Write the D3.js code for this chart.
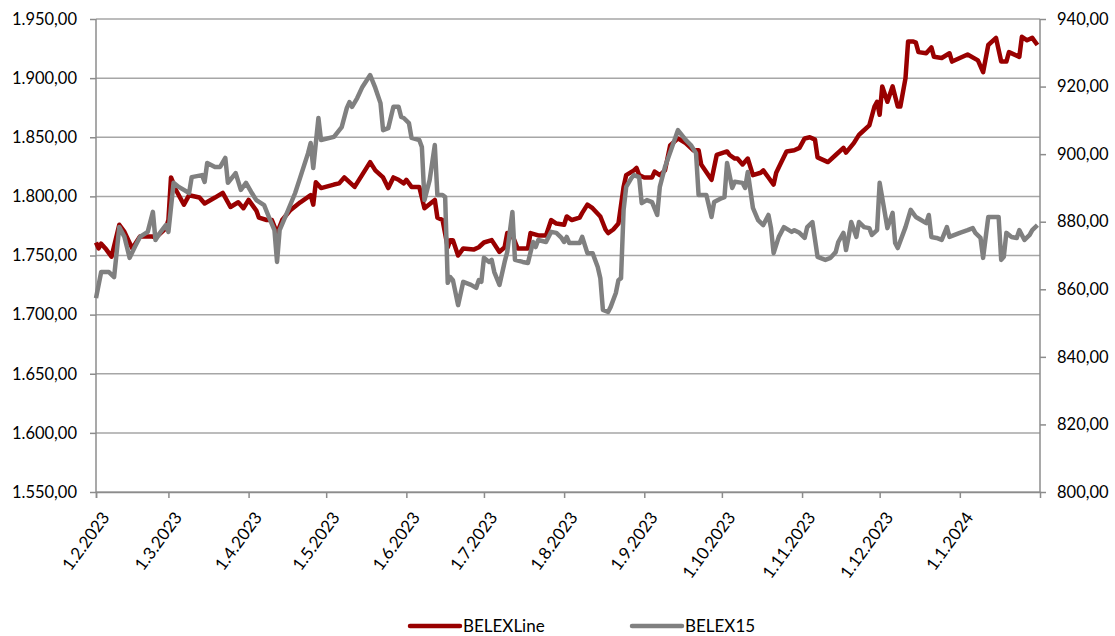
<!DOCTYPE html>
<html>
<head>
<meta charset="utf-8">
<script src="https://cdn.jsdelivr.net/npm/d3@7"></script>
<style>
  body { margin: 0; background: #fff; }
  #chart { width: 1115px; height: 636px; }
</style>
</head>
<body>
<div id="chart"></div>
<script>
// BELEXLine (left axis) vs BELEX15 (right axis)
const lineDates = [
  "2023-02-01","2023-02-02","2023-02-03","2023-02-05","2023-02-07","2023-02-10","2023-02-12","2023-02-15","2023-02-18","2023-02-23",
  "2023-02-24","2023-02-26","2023-02-28","2023-03-01","2023-03-02","2023-03-04","2023-03-07","2023-03-09","2023-03-13","2023-03-15",
  "2023-03-19","2023-03-22","2023-03-25","2023-03-28","2023-03-30","2023-04-01","2023-04-04","2023-04-05","2023-04-08","2023-04-10",
  "2023-04-12","2023-04-14","2023-04-17","2023-04-21","2023-04-25","2023-04-26","2023-04-27","2023-04-29","2023-05-04","2023-05-06",
  "2023-05-08","2023-05-10","2023-05-12","2023-05-18","2023-05-20","2023-05-23","2023-05-25","2023-05-27","2023-05-29","2023-05-31",
  "2023-06-01","2023-06-03","2023-06-06","2023-06-08","2023-06-12","2023-06-13","2023-06-15","2023-06-17","2023-06-18","2023-06-19",
  "2023-06-21","2023-06-23","2023-06-27","2023-06-29","2023-07-01","2023-07-04","2023-07-07","2023-07-09","2023-07-10","2023-07-12",
  "2023-07-14","2023-07-18","2023-07-19","2023-07-22","2023-07-25","2023-07-27","2023-07-29","2023-08-01","2023-08-02","2023-08-04",
  "2023-08-07","2023-08-08","2023-08-10","2023-08-12","2023-08-15","2023-08-17","2023-08-18","2023-08-20","2023-08-22","2023-08-24",
  "2023-08-25","2023-08-28","2023-08-29","2023-08-30","2023-09-01","2023-09-04","2023-09-05","2023-09-07","2023-09-09","2023-09-11",
  "2023-09-14","2023-09-17","2023-09-20","2023-09-22","2023-09-23","2023-09-27","2023-09-29","2023-10-03","2023-10-04","2023-10-06",
  "2023-10-07","2023-10-09","2023-10-11","2023-10-13","2023-10-16","2023-10-17","2023-10-19","2023-10-21","2023-10-22","2023-10-24",
  "2023-10-26","2023-10-29","2023-10-31","2023-11-02","2023-11-04","2023-11-06","2023-11-07","2023-11-11","2023-11-14","2023-11-17",
  "2023-11-18","2023-11-21","2023-11-23","2023-11-24","2023-11-27","2023-11-29","2023-11-30","2023-12-01","2023-12-02","2023-12-04",
  "2023-12-06","2023-12-08","2023-12-09","2023-12-11","2023-12-12","2023-12-14","2023-12-15","2023-12-16","2023-12-19","2023-12-21",
  "2023-12-22","2023-12-25","2023-12-28","2023-12-29","2024-01-01","2024-01-04","2024-01-08","2024-01-10","2024-01-12","2024-01-15",
  "2024-01-17","2024-01-19","2024-01-20","2024-01-24","2024-01-25","2024-01-27","2024-01-29","2024-01-31"
];
const lineValues = [
  1761,1756,1760,1755,1749,1776,1770,1756,1766,1766,
  1765,1769,1773,1780,1816,1805,1793,1801,1799,1794,
  1799,1803,1791,1795,1790,1797,1788,1782,1780,1780,
  1769,1780,1788,1795,1801,1793,1812,1807,1810,1811,
  1816,1812,1808,1829,1822,1816,1807,1816,1814,1811,
  1814,1808,1808,1790,1797,1782,1780,1757,1763,1763,
  1750,1756,1755,1757,1761,1763,1753,1757,1769,1767,
  1756,1756,1769,1767,1767,1780,1777,1776,1783,1780,
  1782,1786,1793,1790,1783,1772,1769,1772,1777,1808,
  1818,1822,1824,1818,1816,1816,1821,1818,1822,1843,
  1849,1845,1839,1839,1827,1814,1835,1838,1835,1832,
  1832,1827,1832,1818,1820,1822,1816,1810,1820,1829,
  1838,1839,1841,1849,1850,1848,1833,1829,1835,1841,
  1837,1845,1852,1854,1860,1876,1880,1869,1893,1880,
  1893,1876,1876,1900,1931,1931,1930,1922,1921,1926,
  1918,1917,1921,1914,1917,1920,1915,1905,1928,1934,
  1914,1914,1922,1918,1935,1932,1934,1928
];

const b15Dates = [
  "2023-02-01","2023-02-03","2023-02-06","2023-02-08","2023-02-10","2023-02-12","2023-02-14","2023-02-16","2023-02-18","2023-02-21",
  "2023-02-23","2023-02-24","2023-02-26","2023-02-28","2023-03-01","2023-03-03","2023-03-05","2023-03-09","2023-03-10","2023-03-14",
  "2023-03-15","2023-03-16","2023-03-19","2023-03-21","2023-03-23","2023-03-24","2023-03-27","2023-03-29","2023-03-31","2023-04-02",
  "2023-04-04","2023-04-07","2023-04-09","2023-04-11","2023-04-12","2023-04-13","2023-04-16","2023-04-19","2023-04-21","2023-04-24",
  "2023-04-25","2023-04-26","2023-04-28","2023-04-29","2023-05-04","2023-05-07","2023-05-09","2023-05-10","2023-05-11","2023-05-13",
  "2023-05-15","2023-05-18","2023-05-20","2023-05-22","2023-05-23","2023-05-25","2023-05-27","2023-05-29","2023-05-30","2023-05-31",
  "2023-06-02","2023-06-03","2023-06-06","2023-06-07","2023-06-08","2023-06-10","2023-06-12","2023-06-13","2023-06-15","2023-06-16",
  "2023-06-17","2023-06-18","2023-06-19","2023-06-21","2023-06-23","2023-06-26","2023-06-28","2023-06-29","2023-06-30","2023-07-01",
  "2023-07-03","2023-07-04","2023-07-05","2023-07-07","2023-07-09","2023-07-10","2023-07-12","2023-07-13","2023-07-16","2023-07-18",
  "2023-07-20","2023-07-21","2023-07-22","2023-07-25","2023-07-27","2023-07-29","2023-07-31","2023-08-01","2023-08-02","2023-08-03",
  "2023-08-07","2023-08-08","2023-08-10","2023-08-12","2023-08-14","2023-08-15","2023-08-16","2023-08-18","2023-08-19","2023-08-21",
  "2023-08-22","2023-08-23","2023-08-24","2023-08-25","2023-08-27","2023-08-28","2023-08-30","2023-08-31","2023-09-02","2023-09-04",
  "2023-09-06","2023-09-07","2023-09-09","2023-09-12","2023-09-14","2023-09-17","2023-09-19","2023-09-21","2023-09-22","2023-09-25",
  "2023-09-27","2023-09-28","2023-10-01","2023-10-02","2023-10-03","2023-10-05","2023-10-06","2023-10-09","2023-10-10","2023-10-11",
  "2023-10-13","2023-10-15","2023-10-17","2023-10-19","2023-10-20","2023-10-21","2023-10-23","2023-10-25","2023-10-28","2023-10-29",
  "2023-10-31","2023-11-02","2023-11-03","2023-11-05","2023-11-07","2023-11-10","2023-11-12","2023-11-14","2023-11-15","2023-11-17",
  "2023-11-18","2023-11-19","2023-11-20","2023-11-22","2023-11-23","2023-11-25","2023-11-27","2023-11-28","2023-11-30","2023-12-01",
  "2023-12-03","2023-12-04","2023-12-06","2023-12-07","2023-12-08","2023-12-11","2023-12-13","2023-12-15","2023-12-17","2023-12-19",
  "2023-12-20","2023-12-21","2023-12-23","2023-12-25","2023-12-27","2023-12-28","2024-01-01","2024-01-04","2024-01-06","2024-01-07",
  "2024-01-09","2024-01-10","2024-01-12","2024-01-16","2024-01-17","2024-01-18","2024-01-19","2024-01-21","2024-01-23","2024-01-24",
  "2024-01-26","2024-01-28","2024-01-29","2024-01-31"
];
const b15Values = [
  857.4,865.1,865.1,863.6,878.4,875.5,869.3,872.5,875.5,877.0,
  882.9,874.6,877.0,879.0,877.0,891.5,890.3,888.5,893.2,893.8,
  891.8,897.4,896.2,896.2,898.9,891.5,894.4,889.4,891.5,888.8,
  886.4,884.9,881.1,877.5,868.1,877.5,882.9,888.5,893.2,900.3,
  903.3,895.9,910.7,904.2,905.1,908.0,913.7,915.4,914.0,916.6,
  919.9,923.4,919.6,915.1,907.1,907.7,914.0,914.0,911.0,910.7,
  909.2,904.8,904.2,902.1,886.4,892.3,902.7,887.9,887.9,887.3,
  861.9,863.6,862.7,855.3,862.2,861.3,860.4,862.7,862.2,869.3,
  868.1,868.7,865.1,861.3,868.1,871.0,882.9,868.7,868.1,867.8,
  874.0,872.5,874.6,874.0,877.0,876.7,875.2,874.0,875.5,873.7,
  873.7,875.5,870.7,870.7,866.6,863.3,853.9,853.3,854.8,858.9,
  862.7,863.3,883.5,890.3,892.9,893.8,893.2,885.5,886.4,885.8,
  882.0,890.3,896.2,902.7,907.1,904.2,902.7,900.3,887.9,887.9,
  881.4,885.8,887.0,887.3,897.4,890.0,891.8,891.5,890.0,894.7,
  884.1,880.5,879.0,882.0,878.1,870.7,875.5,878.4,877.0,877.5,
  876.7,875.2,878.4,879.9,869.6,868.7,869.3,871.0,874.0,876.7,
  871.6,875.5,879.9,875.5,879.9,878.4,878.1,876.1,877.5,891.5,
  882.6,878.1,882.6,873.7,872.2,878.4,883.5,881.4,880.5,879.6,
  882.0,875.5,875.2,874.6,878.4,875.5,876.7,877.5,878.1,876.7,
  875.2,869.3,881.4,881.4,868.7,869.6,876.7,875.5,875.2,877.5,
  874.6,876.1,877.5,879.0
];

const leftTicks = [1550, 1600, 1650, 1700, 1750, 1800, 1850, 1900, 1950];
const rightTicks = [800, 820, 840, 860, 880, 900, 920, 940];
const monthTicks = ["2023-02-01","2023-03-01","2023-04-01","2023-05-01","2023-06-01","2023-07-01",
  "2023-08-01","2023-09-01","2023-10-01","2023-11-01","2023-12-01","2024-01-01"];
const seriesNames = ["BELEXLine", "BELEX15"];

const width = 1115, height = 636;
const margin = { top: 19, right: 75, bottom: 144, left: 96 };
const fontFamily = "Lato, 'Open Sans', sans-serif";
const red = "#990000", grey = "#808080", axisColor = "#8c8c8c";

const parseDate = d3.timeParse("%Y-%m-%d");
const locale = d3.formatLocale({ decimal: ",", thousands: ".", grouping: [3], currency: ["", ""] });
const numFmt = locale.format(",.2f");
const dateFmt = d3.timeFormat("%-d.%-m.%Y");

const svg = d3.select("#chart").append("svg")
  .attr("width", width)
  .attr("height", height)
  .style("font-family", fontFamily);

const x = d3.scaleTime()
  .domain([parseDate("2023-02-01"), parseDate("2024-02-01")])
  .range([margin.left, width - margin.right]);
const yLeft = d3.scaleLinear().domain([1550, 1950]).range([height - margin.bottom, margin.top]);
const yRight = d3.scaleLinear().domain([800, 940]).range([height - margin.bottom, margin.top]);

// gridlines
svg.append("g")
  .selectAll("line")
  .data(leftTicks)
  .join("line")
  .attr("x1", margin.left)
  .attr("x2", width - margin.right)
  .attr("y1", d => yLeft(d))
  .attr("y2", d => yLeft(d))
  .attr("stroke", "#a6a6a6")
  .attr("stroke-width", 1.5);

// axes
const leftAxis = svg.append("g")
  .attr("transform", `translate(${margin.left},0)`)
  .call(d3.axisLeft(yLeft).tickValues(leftTicks).tickSize(6).tickPadding(13).tickFormat(numFmt));
const rightAxis = svg.append("g")
  .attr("transform", `translate(${width - margin.right},0)`)
  .call(d3.axisRight(yRight).tickValues(rightTicks).tickSize(6).tickPadding(11).tickFormat(numFmt));
const bottomAxis = svg.append("g")
  .attr("transform", `translate(0,${height - margin.bottom})`)
  .call(d3.axisBottom(x).tickValues(monthTicks.map(parseDate)).tickSize(6).tickFormat(dateFmt));

[leftAxis, rightAxis, bottomAxis].forEach(g => {
  g.select(".domain").attr("stroke", axisColor).attr("stroke-width", 1.5);
  g.selectAll(".tick line").attr("stroke", axisColor).attr("stroke-width", 1.5);
  g.selectAll(".tick text").attr("fill", "#000").attr("font-size", "16.5px").attr("font-family", fontFamily);
});
leftAxis.select(".domain").attr("d", `M0,${margin.top}V${height - margin.bottom}`);
rightAxis.select(".domain").attr("d", `M0,${margin.top}V${height - margin.bottom}`);

bottomAxis.selectAll(".tick text")
  .attr("text-anchor", "end")
  .attr("x", 0)
  .attr("y", 0)
  .attr("dy", "0.35em")
  .attr("font-size", "17px")
  .attr("transform", "translate(9,22) rotate(-54)");

// series
const lineData = lineDates.map((d, i) => ({ date: parseDate(d), value: lineValues[i] }));
const b15Data = b15Dates.map((d, i) => ({ date: parseDate(d), value: b15Values[i] }));

svg.append("path")
  .datum(lineData)
  .attr("fill", "none")
  .attr("stroke", red)
  .attr("stroke-width", 4.5)
  .attr("stroke-linejoin", "round")
  .attr("d", d3.line().x(d => x(d.date)).y(d => yLeft(d.value)));

svg.append("path")
  .datum(b15Data)
  .attr("fill", "none")
  .attr("stroke", grey)
  .attr("stroke-width", 4.5)
  .attr("stroke-linejoin", "round")
  .attr("d", d3.line().x(d => x(d.date)).y(d => yRight(d.value)));

// legend
const legend = svg.append("g").attr("transform", "translate(410,626)");
const legendItems = legend.selectAll("g")
  .data(seriesNames)
  .join("g")
  .attr("transform", (d, i) => `translate(${i * 222},0)`);
legendItems.append("line")
  .attr("x1", 0).attr("x2", 50)
  .attr("stroke", (d, i) => i === 0 ? red : grey)
  .attr("stroke-width", 4.5)
  .attr("stroke-linecap", "round");
legendItems.append("text")
  .attr("x", 53)
  .attr("dy", "0.35em")
  .attr("font-size", "17px")
  .attr("fill", "#000")
  .text(d => d);
</script>
</body>
</html>
